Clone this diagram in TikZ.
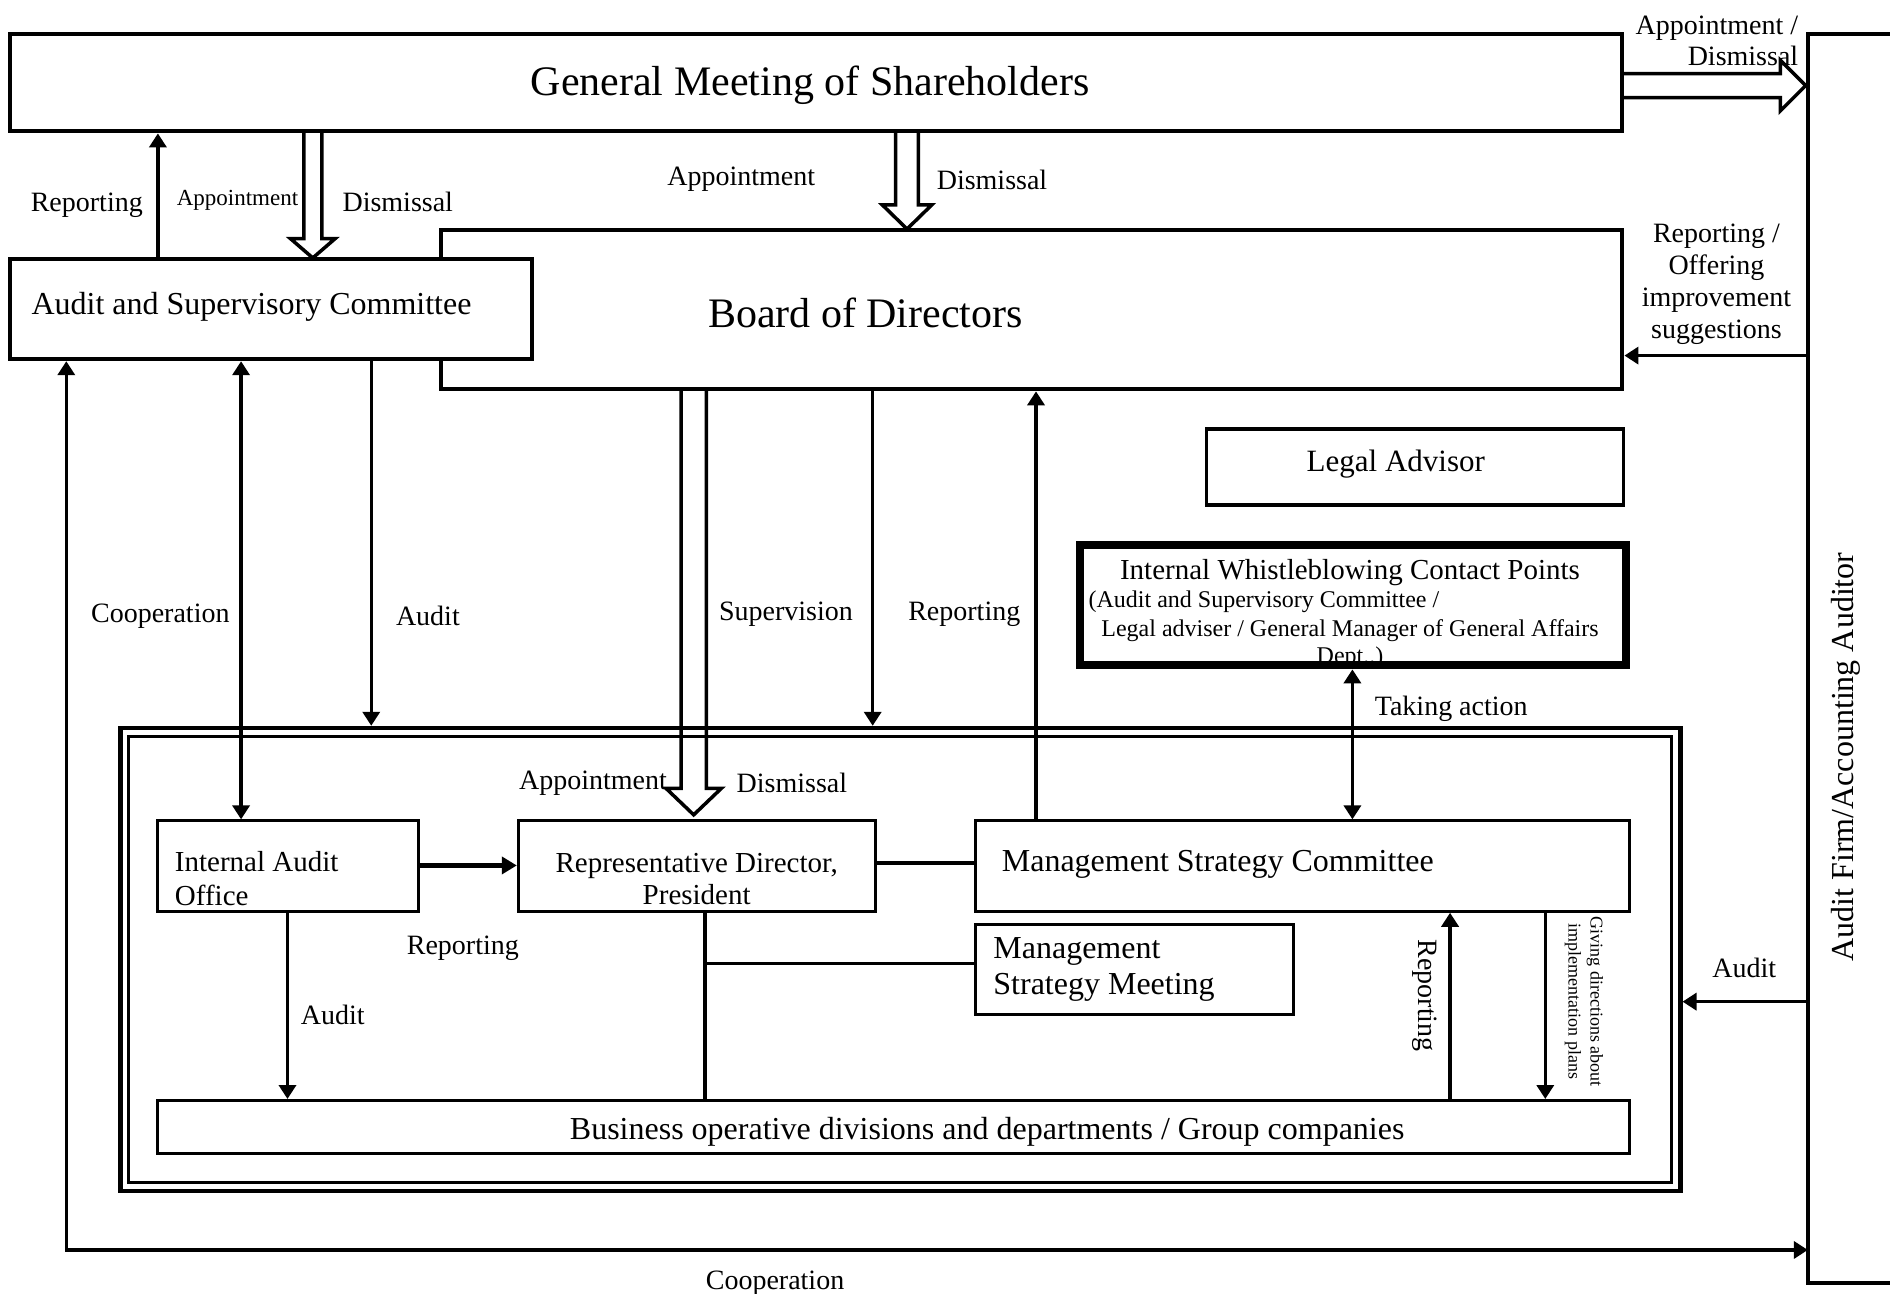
\documentclass[tikz,border=0pt]{standalone}
\usepackage{fontspec}
\setmainfont{Liberation Serif}
\usetikzlibrary{arrows.meta,fit}
\newcommand\hollowdn[6]{% x center, y top, y head start, y tip, shaft half, head half
  \draw[hollow] (#1-#5,#2) -- (#1-#5,#3) -- (#1-#6,#3) -- (#1,#4) -- (#1+#6,#3) -- (#1+#5,#3) -- (#1+#5,#2);}
\newcommand\hollowrt[6]{% y center, x start, x head start, x tip, shaft half, head half
  \draw[hollow] (#2,#1-#5) -- (#3,#1-#5) -- (#3,#1-#6) -- (#4,#1) -- (#3,#1+#6) -- (#3,#1+#5) -- (#2,#1+#5);}
\begin{document}
\begin{tikzpicture}[x=1.2054pt,y=-1.2054pt,
  bx/.style={draw, line width=3pt, inner sep=0pt},
  tbx/.style={draw, line width=4pt, inner sep=0pt},
  lbl/.style={font=\fontsize{28}{32}\selectfont, inner sep=0pt, yshift=-3.5pt},
  rlbl/.style={font=\fontsize{28}{32}\selectfont, inner sep=0pt},
  btxt/.style={inner sep=0pt, font=\fontsize{32}{36}\selectfont, yshift=-3.5pt},
  conn/.style={line width=3.5pt},
  arr/.style={conn, -{Triangle[length=14pt,width=17pt]}},
  darr/.style={conn, {Triangle[length=14pt,width=17pt]}-{Triangle[length=14pt,width=17pt]}},
  hollow/.style={line width=3.5pt, line join=miter},
]
\useasboundingbox (0,0) rectangle (1568,1073);

% ---------- boxes ----------
\node[tbx, fit={(8,28) (1346,109)}] (gms) {};
\node[inner sep=0pt, font=\fontsize{42}{48}\selectfont, yshift=-4.5pt] (gmst) at (672,67) {General Meeting of Shareholders};

\node[inner sep=0pt, fit={(1500,28) (1568,1064)}] (afa) {};
\draw[line width=4pt] (afa.north east) -- (afa.north west) -- (afa.south west) -- (afa.south east);
\node[inner sep=0pt, font=\fontsize{32}{36}\selectfont, rotate=90] (afat) at (1531,628) {Audit Firm/Accounting Auditor};

\node[tbx, fit={(366,191) (1346,323)}] (bod) {};
\node[inner sep=0pt, font=\fontsize{42}{48}\selectfont, yshift=-1pt] (bodt) at (718,259) {Board of Directors};

\node[tbx, fill=white, fit={(8,215) (441,298)}] (asc) {};
\node[btxt, anchor=west] (asct) at (26,252) {Audit and Supervisory Committee};

\node[draw, line width=3.5pt, inner sep=0pt, fit={(1001,356) (1347,419)}] (legal) {};
\node[inner sep=0pt, font=\fontsize{31}{36}\selectfont, yshift=-2.5pt] (legalt) at (1158,383) {Legal Advisor};

\node[draw, line width=8pt, inner sep=0pt, fit={(896,452) (1349,552)}] (iwcp) {};
\node[inner sep=0pt, font=\fontsize{29}{34}\selectfont, yshift=-3.5pt] (iwcpt) at (1120,472) {Internal Whistleblowing Contact Points};
\node[inner sep=0pt, font=\fontsize{24}{29}\selectfont, anchor=west, yshift=-3pt] (iwcp2) at (903,497) {(Audit and Supervisory Committee /};
\node[inner sep=0pt, font=\fontsize{24}{29}\selectfont, yshift=-3pt] (iwcp3) at (1120,521) {Legal adviser / General Manager of General Affairs};
\node[inner sep=0pt, font=\fontsize{24}{29}\selectfont, yshift=-3pt] (iwcp4) at (1120,543) {Dept..)};

\node[draw, line width=4.5pt, inner sep=0pt, fit={(100,604) (1394,988)}] (outer) {};
\node[draw, line width=3pt, inner sep=0pt, fit={(107,611) (1387,981)}] (inner) {};

\node[bx, fit={(131,681) (347,756)}] (iao) {};
\node[inner sep=0pt, font=\fontsize{29}{34}\selectfont, align=left, anchor=west, yshift=-2pt] (iaot) at (145,727) {Internal Audit\\Office};

\node[bx, fit={(430,681) (726,756)}] (rd) {};
\node[inner sep=0pt, font=\fontsize{29}{32.5}\selectfont, align=center, yshift=-1.5pt] (rdt) at (578,728) {Representative Director,\\President};

\node[bx, fit={(809,681) (1352,756)}] (msc) {};
\node[btxt, anchor=west] (msct) at (831,714) {Management Strategy Committee};

\node[bx, fit={(809,767) (1073,842)}] (msm) {};
\node[inner sep=0pt, align=left, anchor=west, font=\fontsize{32}{36}\selectfont, yshift=-2pt] (msmt) at (824,803) {Management\\Strategy Meeting};

\node[bx, fit={(131,913) (1352,957)}] (bodg) {};
\node[btxt] (bodgt) at (819,936) {Business operative divisions and departments / Group companies};

% ---------- helper coordinates ----------
\coordinate (xrep) at (131,0);
\coordinate (xcoop) at (200,0);
\coordinate (xaud) at (308,0);
\coordinate (xloop) at (55,0);
\coordinate (yloop) at (0,1037);
\coordinate (xsup) at (724,0);
\coordinate (xbrep) at (859.5,0);
\coordinate (xtake) at (1122,0);
\coordinate (xiaud) at (238.5,0);
\coordinate (xrd) at (585,0);
\coordinate (xmrep) at (1203,0);
\coordinate (xgive) at (1282,0);
\coordinate (yrepof) at (0,295);
\coordinate (yaudr) at (0,831);
\coordinate (yiao) at (0,718);
\coordinate (ymsm) at (0,799.5);
\coordinate (ymsc) at (0,716);

% ---------- hollow arrows ----------
\hollowdn{259.5}{109}{198}{214}{7.5}{18.5}
\hollowdn{752.5}{109}{170}{190}{9.5}{20.5}
\hollowrt{71}{1346}{1477}{1498}{10}{21}
\hollowdn{575.5}{323}{654}{676}{10.5}{23}

% ---------- connectors ----------
\draw[arr] (asc.north -| xrep) -- (gms.south -| xrep);
\draw[darr] (asc.south -| xcoop) -- (iao.north -| xcoop);
\draw[arr] (asc.south -| xaud) -- (outer.north -| xaud);
\draw[darr] (asc.south -| xloop) -- (yloop -| xloop) -- (yloop -| afa.west);
\draw[arr] (bod.south -| xsup) -- (outer.north -| xsup);
\draw[arr] (msc.north -| xbrep) -- (bod.south -| xbrep);
\draw[darr] (msc.north -| xtake) -- (iwcp.south -| xtake);
\draw[conn, line width=5.5pt, -{Triangle[length=15pt,width=17pt]}] (iao.east |- yiao) -- (rd.west |- yiao);
\draw[arr] (iao.south -| xiaud) -- (bodg.north -| xiaud);
\draw[conn] (rd.south -| xrd) -- (bodg.north -| xrd);
\draw[conn] (ymsm -| xrd) -- (msm.west |- ymsm);
\draw[conn] (rd.east |- ymsc) -- (msc.west |- ymsc);
\draw[arr] (bodg.north -| xmrep) -- (msc.south -| xmrep);
\draw[arr] (msc.south -| xgive) -- (bodg.north -| xgive);
\draw[arr] (afa.west |- yrepof) -- (bod.east |- yrepof);
\draw[arr] (afa.west |- yaudr) -- (outer.east |- yaudr);

% ---------- labels ----------
\node[lbl] (l1) at (72,167) {Reporting};
\node[lbl, font=\fontsize{23}{26}\selectfont] (l2) at (197,163) {Appointment};
\node[lbl] (l3) at (330,165) {Dismissal};
\node[lbl] (l4) at (615,146) {Appointment};
\node[lbl] (l5) at (823,146) {Dismissal};
\node[lbl, align=right, anchor=east, font=\fontsize{28}{31}\selectfont] (l6) at (1492,31) {Appointment /\\Dismissal};
\node[lbl, align=center] (l7) at (1424,233) {Reporting /\\Offering\\improvement\\suggestions};
\node[lbl] (l8) at (133,508) {Cooperation};
\node[lbl] (l9) at (355,508) {Audit};
\node[lbl] (l10) at (652,507) {Supervision};
\node[lbl] (l11) at (800,507) {Reporting};
\node[lbl] (l12) at (1204,585) {Taking action};
\node[lbl] (l13) at (492,647) {Appointment};
\node[lbl] (l14) at (657,647) {Dismissal};
\node[lbl] (l15) at (384,784) {Reporting};
\node[lbl] (l16) at (276,839) {Audit};
\node[rlbl, rotate=-90] (l17) at (1182,826) {Reporting};
\node[rlbl, font=\fontsize{18}{22}\selectfont, rotate=-90, align=center] (l18) at (1314,831) {Giving directions about\\implementation plans};
\node[lbl] (l19) at (1447,800) {Audit};
\node[lbl] (l20) at (643,1062) {Cooperation};
\end{tikzpicture}
\end{document}
